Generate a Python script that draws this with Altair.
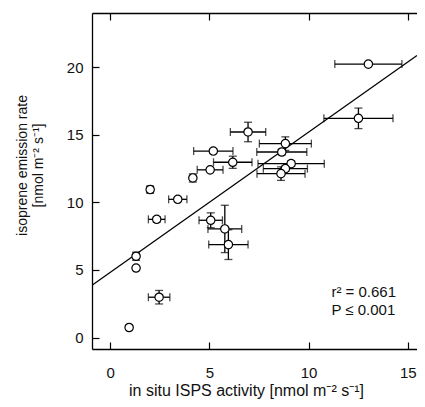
import altair as alt
import pandas as pd

# ---- data ----
isps = [0.96, 1.31, 1.31, 2.47, 2.02, 2.35, 3.41, 4.17, 5.04, 6.18, 5.07,
        5.78, 5.96, 6.95, 5.20, 8.83, 8.65, 9.12, 8.83, 8.61, 13.01, 12.51]
emission = [0.74, 6.01, 5.14, 2.98, 10.94, 8.74, 10.22, 11.80, 12.40, 12.96, 8.67,
            8.03, 6.87, 15.20, 13.79, 14.34, 13.72, 12.86, 12.49, 12.12, 20.22, 16.21]
isps_err = [0, 0.10, 0, 0.54, 0.15, 0.42, 0.46, 0.10, 0.65, 0.97, 0.59,
            0.85, 0.99, 0.89, 0.99, 1.31, 1.26, 1.67, 1.11, 1.21, 1.69, 1.74]
emission_err = [0, 0.30, 0, 0.50, 0.25, 0.20, 0.15, 0.30, 0.10, 0.45, 0.55,
                1.75, 1.10, 0.72, 0.15, 0.50, 0.20, 0.20, 0.20, 0.50, 0.10, 0.76]

fit_intercept = 4.81
fit_slope = 1.038

x_ticks = [0, 5, 10, 15]
y_ticks = [0, 5, 10, 15, 20]
XMIN, XMAX = -0.91, 15.46
YMIN, YMAX = -0.85, 24.0

stats_labels = ["r² = 0.661", "P ≤ 0.001"]
stats_x = [11.15, 11.15]
stats_y = [3.35, 2.0]

X_TITLE = "in situ ISPS activity [nmol m⁻² s⁻¹]"
Y_TITLE = ["isoprene emission rate", "[nmol m⁻² s⁻¹]"]
FONT = "Liberation Sans"

# ---- tables ----
df = pd.DataFrame({"x": isps, "y": emission, "xe": isps_err, "ye": emission_err})
df["xlo"] = df.x - df.xe
df["xhi"] = df.x + df.xe
df["ylo"] = df.y - df.ye
df["yhi"] = df.y + df.ye
dx = df[df.xe > 0]
dy = df[df.ye > 0]
capx = pd.concat([pd.DataFrame({"pos": dx.xlo, "y": dx.y}),
                  pd.DataFrame({"pos": dx.xhi, "y": dx.y})])
capy = pd.concat([pd.DataFrame({"x": dy.x, "pos": dy.ylo}),
                  pd.DataFrame({"x": dy.x, "pos": dy.yhi})])
line_df = pd.DataFrame({"x": [XMIN, XMAX],
                        "y": [fit_intercept + fit_slope * XMIN, fit_intercept + fit_slope * XMAX]})
txt_df = pd.DataFrame({"x": stats_x, "y": stats_y, "t": stats_labels})

xs = alt.Scale(domain=[XMIN, XMAX], nice=False, zero=False)
ys = alt.Scale(domain=[YMIN, YMAX], nice=False, zero=False)

base = dict(grid=False, tickColor="black", tickWidth=1.2, domainColor="black",
            domainWidth=1.3, labelFont=FONT, labelFontSize=15, labelColor="#111",
            titleFont=FONT, titleColor="#111",
            titleFontWeight="normal", labelFlush=False)

ax_bottom_ticks = alt.Axis(orient="bottom", values=x_ticks, offset=-7, tickSize=7,
                           domain=False, labelPadding=16, title=X_TITLE,
                           titleFontSize=16, titleX=154, titleY=53,
                           titleBaseline="alphabetic", titleAlign="center", **base)
ax_left_ticks = alt.Axis(orient="left", values=y_ticks, offset=-7, tickSize=7,
                         domain=False, labelPadding=9, title=Y_TITLE,
                         titleFontSize=14, titlePadding=21, titleLineHeight=16,
                         titleY=152, **base)
ax_top_ticks = alt.Axis(orient="top", values=x_ticks, offset=-7, tickSize=7,
                        domain=False, labels=False, title=None, **base)
ax_bottom_dom = alt.Axis(orient="bottom", ticks=False, labels=False, title=None, **base)
ax_left_dom = alt.Axis(orient="left", ticks=False, labels=False, title=None, **base)
ax_top_dom = alt.Axis(orient="top", ticks=False, labels=False, title=None, **base)

xbars = alt.Chart(dx).mark_rule(color="black", strokeWidth=1.3).encode(
    x=alt.X("xlo:Q", scale=xs, axis=ax_bottom_ticks), x2="xhi:Q",
    y=alt.Y("y:Q", scale=ys, axis=ax_left_ticks))
ybars = alt.Chart(dy).mark_rule(color="black", strokeWidth=1.3).encode(
    x=alt.X("x:Q", scale=xs, axis=ax_top_ticks),
    y=alt.Y("ylo:Q", scale=ys, axis=None), y2="yhi:Q")
capsx = alt.Chart(capx).mark_tick(orient="vertical", size=8, thickness=1.3, color="black").encode(
    x=alt.X("pos:Q", scale=xs, axis=None), y=alt.Y("y:Q", scale=ys, axis=None))
capsy = alt.Chart(capy).mark_tick(orient="horizontal", size=8, thickness=1.3, color="black").encode(
    x=alt.X("x:Q", scale=xs, axis=None), y=alt.Y("pos:Q", scale=ys, axis=None))
fit = alt.Chart(line_df).mark_line(color="black", strokeWidth=1.3, clip=True).encode(
    x=alt.X("x:Q", scale=xs, axis=ax_bottom_dom),
    y=alt.Y("y:Q", scale=ys, axis=ax_left_dom))
pts = alt.Chart(df).mark_circle(color="white", stroke="black", strokeWidth=1.2,
                                size=70, opacity=1).encode(
    x=alt.X("x:Q", scale=xs, axis=ax_top_dom), y=alt.Y("y:Q", scale=ys, axis=None))
txt = alt.Chart(txt_df).mark_text(align="left", baseline="middle", font=FONT,
                                  fontSize=15, color="#111").encode(
    x=alt.X("x:Q", scale=xs, axis=None), y=alt.Y("y:Q", scale=ys, axis=None), text="t:N")

chart = alt.layer(xbars, ybars, capsx, capsy, fit, pts, txt).resolve_axis(
    x="independent", y="independent"
).properties(
    width=325, height=336,
    autosize=alt.AutoSizeParams(type="none"),
    padding={"left": 84, "top": 5, "right": 0, "bottom": 50},
    background="white",
).configure_view(stroke=None)

chart.save("out.html", embed_options={"renderer": "svg", "actions": False})
